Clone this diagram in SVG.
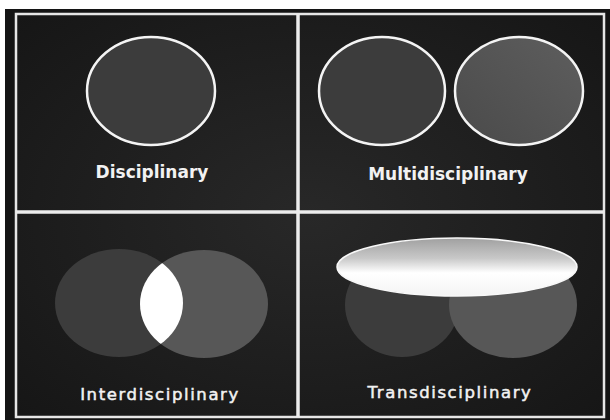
<svg xmlns="http://www.w3.org/2000/svg" width="610" height="420" viewBox="0 0 610 420">
<defs>
<radialGradient id="bg" cx="0.5" cy="0.5" r="0.7">
<stop offset="0" stop-color="#282828"/>
<stop offset="1" stop-color="#161616"/>
</radialGradient>
<linearGradient id="disc" x1="0" y1="0" x2="0" y2="1">
<stop offset="0" stop-color="#a0a0a0"/>
<stop offset="0.35" stop-color="#c8c8c8"/>
<stop offset="0.6" stop-color="#ffffff"/>
<stop offset="1" stop-color="#f4f4f4"/>
</linearGradient>
<linearGradient id="g2" x1="0" y1="1" x2="1" y2="0">
<stop offset="0" stop-color="#4a4a4a"/>
<stop offset="1" stop-color="#5e5e5e"/>
</linearGradient>
<clipPath id="clipL"><ellipse cx="119" cy="303" rx="64" ry="54"/></clipPath>
</defs>
<style>
.lbl{font-family:"DejaVu Sans",sans-serif;font-weight:bold;font-size:17px;fill:#f2f2f2;text-anchor:middle}
.lbl2{font-family:"DejaVu Sans",sans-serif;font-size:16.5px;fill:#f2f2f2;stroke:#f2f2f2;stroke-width:0.5;text-anchor:middle;letter-spacing:1.6px}
.ring{stroke:#f4f4f4;stroke-width:2.5}
.dark{fill:#3c3c3c}
.mid{fill:#575757}
</style>
<rect x="0" y="0" width="610" height="420" fill="#ffffff"/>
<rect x="5" y="9" width="605" height="411" fill="#141414"/>
<rect x="16" y="14" width="588" height="403" fill="url(#bg)" stroke="#e6e6e6" stroke-width="2.5"/>
<g id="dividers">
<line x1="298" y1="14" x2="298" y2="417" stroke="#ececec" stroke-width="3.5"/>
<line x1="16" y1="212" x2="604" y2="212" stroke="#ececec" stroke-width="3.5"/>
</g>
<g id="disciplinary">
<ellipse class="dark ring" cx="151" cy="91" rx="64" ry="54"/>
<text class="lbl" x="152" y="178">Disciplinary</text>
</g>
<g id="multidisciplinary">
<ellipse class="dark ring" cx="382" cy="91" rx="63" ry="54"/>
<ellipse class="ring" fill="url(#g2)" cx="519" cy="91" rx="64" ry="54"/>
<text class="lbl" x="448" y="180">Multidisciplinary</text>
</g>
<g id="interdisciplinary">
<ellipse class="dark" cx="119" cy="303" rx="64" ry="54"/>
<ellipse class="mid" cx="204" cy="304" rx="64" ry="54"/>
<ellipse cx="204" cy="304" rx="64" ry="54" fill="#ffffff" clip-path="url(#clipL)"/>
<text class="lbl2" x="160" y="400">Interdisciplinary</text>
</g>
<g id="transdisciplinary">
<ellipse class="dark" cx="402" cy="305" rx="57" ry="52"/>
<ellipse class="mid" cx="513" cy="305" rx="64" ry="53"/>
<ellipse cx="457" cy="267" rx="120" ry="29" fill="url(#disc)" stroke="#f8f8f8" stroke-width="1.5"/>
<text class="lbl2" x="450" y="398">Transdisciplinary</text>
</g>
</svg>
